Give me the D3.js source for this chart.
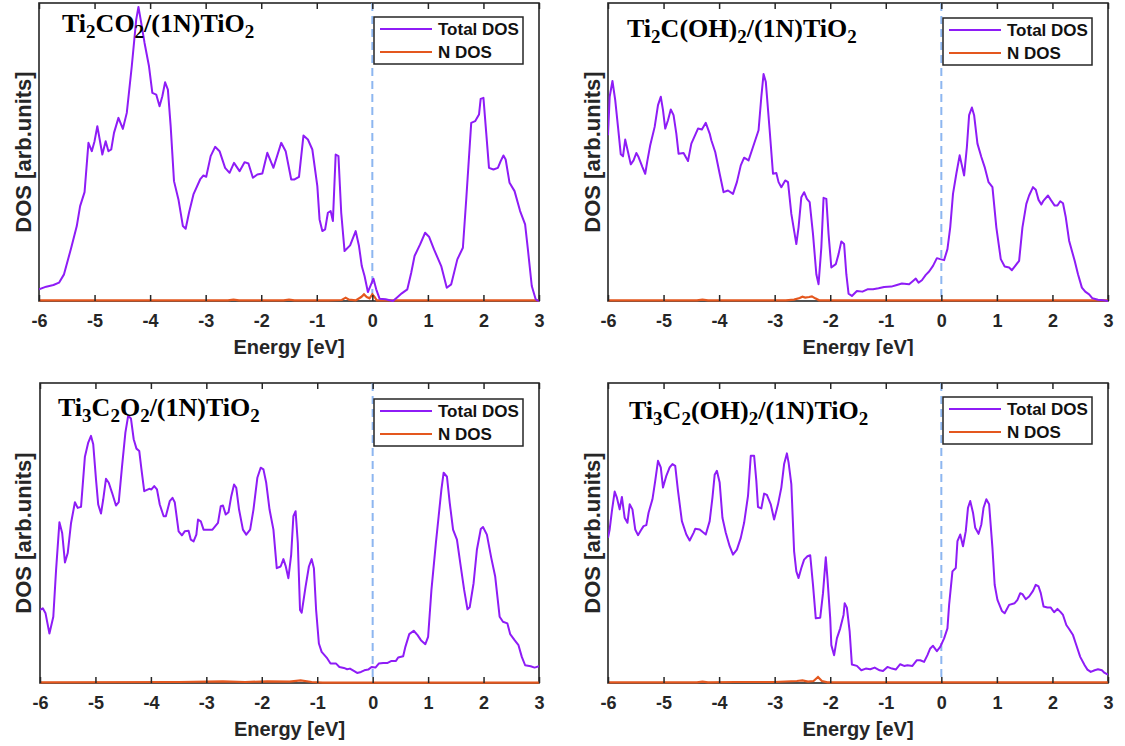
<!DOCTYPE html>
<html>
<head>
<meta charset="utf-8">
<script src="https://cdn.jsdelivr.net/npm/d3@7"></script>
<style>
  body { margin: 0; background: #fff; }
  svg { display: block; }
</style>
</head>
<body>
<svg id="chart" width="1125" height="746"></svg>
<script>
// ---- axis ticks and labels ----
const energyTicks = [-6, -5, -4, -3, -2, -1, 0, 1, 2, 3];
const energyDomain = [-6, 3];
const seriesNames = ["Total DOS", "N DOS"];
const xLabel = "Energy [eV]";
const yLabel = "DOS [arb.units]";
// "_d" marks a subscript digit
const panelTitles = [
  "Ti_2CO_2/(1N)TiO_2",
  "Ti_2C(OH)_2/(1N)TiO_2",
  "Ti_3C_2O_2/(1N)TiO_2",
  "Ti_3C_2(OH)_2/(1N)TiO_2"
];
// upper limit of the DOS axis of each panel (arb. units)
const dosTop = [89.5, 89, 89.6, 89.5];

// ---- Ti2CO2/(1N)TiO2 : [energy eV, DOS] ----
const ti2co2Total = [
  [-6.00,3.5],[-5.87,4.3],[-5.74,4.8],[-5.64,5.5],[-5.55,8.0],[-5.42,16.0],[-5.32,22.5],[-5.26,28.5],
  [-5.18,32.7],[-5.11,47.5],[-5.05,45.0],[-5.00,48.0],[-4.95,52.5],[-4.86,44.0],[-4.80,48.0],[-4.75,45.0],
  [-4.70,45.5],[-4.65,50.5],[-4.57,55.0],[-4.49,51.7],[-4.42,56.5],[-4.33,70.5],[-4.25,84.5],[-4.21,88.3],
  [-4.17,84.5],[-4.10,77.5],[-4.02,70.5],[-3.96,62.5],[-3.89,62.0],[-3.83,58.5],[-3.78,61.5],[-3.73,65.7],
  [-3.68,63.5],[-3.63,52.5],[-3.57,36.0],[-3.49,30.5],[-3.41,22.5],[-3.36,21.7],[-3.30,26.5],[-3.22,32.0],
  [-3.10,36.5],[-3.04,37.7],[-2.99,37.3],[-2.91,43.5],[-2.83,46.3],[-2.75,45.0],[-2.65,40.0],[-2.57,38.5],
  [-2.49,41.5],[-2.39,39.0],[-2.30,41.7],[-2.23,41.3],[-2.15,37.0],[-2.07,38.0],[-1.98,38.3],[-1.89,44.5],
  [-1.78,40.0],[-1.64,47.5],[-1.56,45.0],[-1.46,36.5],[-1.40,36.5],[-1.32,37.3],[-1.24,49.7],[-1.16,48.5],
  [-1.08,45.5],[-0.99,34.5],[-0.95,24.5],[-0.90,21.0],[-0.85,21.5],[-0.80,26.5],[-0.75,27.0],[-0.71,24.0],
  [-0.66,44.0],[-0.61,43.5],[-0.56,26.5],[-0.50,15.0],[-0.40,16.7],[-0.30,21.0],[-0.24,16.5],[-0.19,10.5],
  [-0.14,7.5],[-0.08,2.7],[0.02,6.7],[0.07,3.5],[0.13,0.7],[0.24,0.5],[0.37,0.0],[0.44,1.0],
  [0.53,2.3],[0.63,3.5],[0.70,8.5],[0.76,13.5],[0.86,17.0],[0.95,20.5],[1.02,19.3],[1.11,15.5],
  [1.24,10.5],[1.34,4.0],[1.42,5.0],[1.53,12.5],[1.63,16.0],[1.69,30.5],[1.78,53.5],[1.85,54.0],
  [1.92,56.0],[1.95,60.7],[2.00,61.0],[2.05,50.5],[2.10,40.0],[2.18,39.5],[2.26,40.0],[2.31,42.0],
  [2.36,43.7],[2.40,42.5],[2.47,35.5],[2.56,33.0],[2.66,27.0],[2.75,23.0],[2.80,15.5],[2.87,4.5],
  [2.94,0.5],[3.00,0.0]
];
const ti2co2N = [
  [-6.00,0.2],[-2.60,0.2],[-2.50,0.4],[-2.40,0.2],[-1.60,0.2],[-1.50,0.4],[-1.40,0.2],[-0.80,0.2],
  [-0.55,0.3],[-0.48,1.0],[-0.42,0.4],[-0.30,0.2],[-0.20,1.2],[-0.15,2.0],[-0.10,1.2],[-0.05,0.8],
  [0.00,2.0],[0.04,1.2],[0.08,0.2],[3.00,0.2]
];

// ---- Ti2C(OH)2/(1N)TiO2 ----
const ti2coh2Total = [
  [-6.00,49.5],[-5.97,61.0],[-5.92,65.7],[-5.87,60.0],[-5.82,52.0],[-5.77,43.8],[-5.73,43.2],[-5.69,48.2],
  [-5.64,44.5],[-5.59,40.8],[-5.54,42.0],[-5.49,44.2],[-5.45,43.0],[-5.38,40.0],[-5.33,38.0],[-5.29,42.0],
  [-5.24,46.5],[-5.16,52.0],[-5.10,58.5],[-5.05,61.0],[-5.01,57.0],[-4.97,51.5],[-4.92,54.0],[-4.87,57.2],
  [-4.82,55.5],[-4.77,50.0],[-4.73,44.0],[-4.64,44.2],[-4.56,41.8],[-4.50,47.0],[-4.38,51.5],[-4.31,51.2],
  [-4.24,53.2],[-4.17,50.0],[-4.14,48.0],[-4.07,44.5],[-3.99,38.0],[-3.92,32.5],[-3.84,33.0],[-3.75,32.0],
  [-3.68,35.5],[-3.61,40.5],[-3.55,42.8],[-3.47,42.0],[-3.39,46.0],[-3.29,51.0],[-3.24,61.0],[-3.20,67.8],
  [-3.16,65.5],[-3.09,51.0],[-3.03,38.0],[-2.97,38.2],[-2.93,35.5],[-2.88,34.0],[-2.81,36.0],[-2.76,35.5],
  [-2.70,26.0],[-2.61,17.0],[-2.57,22.0],[-2.52,31.0],[-2.47,32.5],[-2.42,30.5],[-2.37,29.5],[-2.31,20.0],
  [-2.25,8.0],[-2.21,5.0],[-2.16,16.0],[-2.12,30.8],[-2.07,30.5],[-2.03,20.0],[-1.98,10.0],[-1.90,11.0],
  [-1.85,14.0],[-1.80,17.8],[-1.75,17.0],[-1.71,8.0],[-1.67,2.2],[-1.61,1.5],[-1.52,3.0],[-1.42,2.8],
  [-1.33,3.5],[-1.23,3.5],[-1.13,3.8],[-1.03,4.2],[-0.90,4.3],[-0.80,4.8],[-0.71,5.2],[-0.58,5.0],
  [-0.51,6.0],[-0.46,6.7],[-0.41,5.5],[-0.35,6.2],[-0.28,7.8],[-0.22,8.8],[-0.15,10.5],[-0.08,12.8],
  [-0.02,12.5],[0.05,12.2],[0.11,15.5],[0.16,22.0],[0.21,32.0],[0.27,38.0],[0.33,43.5],[0.37,40.5],
  [0.41,37.5],[0.46,46.0],[0.50,55.5],[0.55,57.8],[0.59,55.5],[0.65,47.0],[0.72,43.0],[0.78,40.0],
  [0.85,35.5],[0.92,34.0],[0.99,22.0],[1.07,12.5],[1.14,10.3],[1.22,10.0],[1.27,9.2],[1.33,10.5],
  [1.40,12.0],[1.46,22.0],[1.53,29.0],[1.58,31.5],[1.65,34.0],[1.70,33.2],[1.75,30.2],[1.80,28.8],
  [1.84,30.0],[1.92,31.5],[1.97,30.2],[2.04,28.5],[2.09,28.5],[2.14,29.8],[2.19,29.2],[2.24,25.0],
  [2.30,18.0],[2.40,12.0],[2.46,8.0],[2.53,4.0],[2.59,2.8],[2.66,2.0],[2.72,0.8],[2.82,0.4],
  [2.92,0.2],[3.00,0.0]
];
const ti2coh2N = [
  [-6.00,0.2],[-4.40,0.2],[-4.30,0.4],[-4.20,0.2],[-2.80,0.2],[-2.65,0.4],[-2.55,0.9],[-2.50,1.3],
  [-2.45,1.0],[-2.38,1.2],[-2.33,1.4],[-2.27,0.8],[-2.20,0.2],[3.00,0.2]
];

// ---- Ti3C2O2/(1N)TiO2 ----
const ti3c2o2Total = [
  [-6.00,21.8],[-5.95,22.3],[-5.90,20.8],[-5.83,14.8],[-5.76,19.8],[-5.71,33.8],[-5.65,48.0],[-5.60,44.8],
  [-5.55,36.0],[-5.50,38.8],[-5.44,47.8],[-5.37,54.0],[-5.32,52.3],[-5.26,52.6],[-5.19,67.6],[-5.13,71.8],
  [-5.08,73.8],[-5.04,71.3],[-4.99,60.8],[-4.95,53.3],[-4.90,50.6],[-4.86,54.8],[-4.81,61.0],[-4.76,59.8],
  [-4.70,56.8],[-4.63,53.0],[-4.58,54.0],[-4.52,64.8],[-4.46,74.8],[-4.41,79.8],[-4.36,79.0],[-4.31,72.8],
  [-4.26,70.0],[-4.21,69.3],[-4.17,63.8],[-4.12,57.3],[-4.03,58.0],[-3.99,57.8],[-3.94,58.8],[-3.89,57.8],
  [-3.84,53.3],[-3.77,49.8],[-3.73,49.8],[-3.66,54.3],[-3.61,55.3],[-3.57,54.0],[-3.50,45.3],[-3.44,44.1],
  [-3.39,45.3],[-3.32,45.5],[-3.28,42.8],[-3.23,42.3],[-3.18,44.3],[-3.15,48.8],[-3.10,48.3],[-3.05,45.8],
  [-2.97,45.8],[-2.89,45.8],[-2.79,47.8],[-2.74,52.8],[-2.70,53.0],[-2.65,50.3],[-2.60,51.0],[-2.55,55.8],
  [-2.50,59.3],[-2.46,58.3],[-2.41,51.8],[-2.34,45.8],[-2.28,44.3],[-2.21,45.8],[-2.15,51.8],[-2.08,61.3],
  [-2.02,64.3],[-1.97,63.8],[-1.92,59.8],[-1.86,51.8],[-1.79,45.8],[-1.73,34.3],[-1.66,34.8],[-1.61,37.0],
  [-1.57,35.0],[-1.52,31.3],[-1.47,38.3],[-1.43,49.8],[-1.39,51.3],[-1.35,41.8],[-1.31,21.8],[-1.28,21.0],
  [-1.21,28.8],[-1.15,34.8],[-1.10,37.0],[-1.06,34.3],[-1.02,21.8],[-0.97,11.8],[-0.92,9.3],[-0.83,7.6],
  [-0.76,5.8],[-0.66,5.8],[-0.60,4.8],[-0.52,4.5],[-0.46,4.1],[-0.41,4.3],[-0.34,3.6],[-0.28,3.0],
  [-0.21,3.3],[-0.15,3.8],[-0.08,4.0],[-0.02,4.8],[0.05,4.6],[0.11,5.8],[0.19,6.0],[0.27,6.0],
  [0.34,6.6],[0.42,6.6],[0.46,7.6],[0.55,8.0],[0.59,10.8],[0.66,14.6],[0.74,15.6],[0.81,14.3],
  [0.87,12.8],[0.95,11.6],[1.00,13.8],[1.06,27.8],[1.14,41.8],[1.19,49.8],[1.24,57.8],[1.28,62.8],
  [1.34,61.6],[1.39,53.8],[1.45,45.8],[1.52,42.8],[1.58,35.8],[1.65,27.8],[1.71,22.0],[1.75,22.6],
  [1.82,29.8],[1.88,39.8],[1.95,46.0],[1.99,46.6],[2.06,44.3],[2.14,37.3],[2.21,31.8],[2.29,19.8],
  [2.35,18.3],[2.43,17.8],[2.48,14.6],[2.56,12.8],[2.63,11.3],[2.69,7.8],[2.75,5.3],[2.85,5.0],
  [2.92,4.6],[3.00,5.0]
];
const ti3c2o2N = [
  [-6.00,0.2],[-3.50,0.3],[-2.70,0.5],[-2.30,0.3],[-1.90,0.5],[-1.50,0.4],[-1.30,0.8],[-1.10,0.3],
  [-0.90,0.1],[3.00,0.1]
];

// ---- Ti3C2(OH)2/(1N)TiO2 ----
const ti3c2oh2Total = [
  [-6.00,43.3],[-5.97,45.8],[-5.93,51.3],[-5.88,57.1],[-5.84,55.3],[-5.79,51.8],[-5.75,55.5],[-5.70,49.3],
  [-5.65,47.8],[-5.61,53.3],[-5.56,51.8],[-5.51,45.8],[-5.46,44.1],[-5.41,45.5],[-5.36,46.8],[-5.31,47.1],
  [-5.27,50.8],[-5.20,54.8],[-5.15,60.3],[-5.10,66.3],[-5.05,64.3],[-5.01,58.3],[-4.95,61.8],[-4.89,64.3],
  [-4.84,65.3],[-4.79,64.8],[-4.74,57.3],[-4.67,48.3],[-4.59,44.3],[-4.53,42.5],[-4.46,44.8],[-4.43,46.0],
  [-4.35,45.8],[-4.30,45.1],[-4.24,44.3],[-4.17,48.3],[-4.12,55.3],[-4.08,62.1],[-4.04,63.3],[-3.99,59.8],
  [-3.94,49.3],[-3.88,44.8],[-3.81,40.8],[-3.75,38.3],[-3.68,39.8],[-3.61,43.3],[-3.55,47.8],[-3.48,55.8],
  [-3.43,67.8],[-3.37,67.8],[-3.33,60.3],[-3.30,52.5],[-3.24,52.1],[-3.19,56.5],[-3.14,56.1],[-3.07,53.3],
  [-3.01,48.8],[-2.94,53.3],[-2.88,58.3],[-2.83,65.3],[-2.78,68.5],[-2.75,65.8],[-2.70,59.3],[-2.65,39.3],
  [-2.61,33.3],[-2.57,31.3],[-2.52,34.3],[-2.47,36.8],[-2.41,37.8],[-2.36,38.1],[-2.31,29.3],[-2.26,19.3],
  [-2.18,19.5],[-2.13,26.8],[-2.08,37.5],[-2.05,31.3],[-2.00,19.3],[-1.98,11.3],[-1.93,8.3],[-1.88,13.3],
  [-1.82,16.3],[-1.76,20.3],[-1.74,23.8],[-1.70,22.5],[-1.65,15.3],[-1.61,5.5],[-1.52,5.1],[-1.44,3.8],
  [-1.36,4.3],[-1.28,4.1],[-1.20,4.6],[-1.11,3.8],[-1.05,3.6],[-0.97,4.8],[-0.89,4.3],[-0.82,4.0],
  [-0.74,5.6],[-0.67,5.1],[-0.61,5.3],[-0.52,5.1],[-0.44,6.8],[-0.38,6.8],[-0.31,6.3],[-0.25,8.3],
  [-0.20,10.3],[-0.15,11.1],[-0.08,9.5],[-0.02,10.8],[0.05,13.3],[0.11,16.3],[0.14,23.3],[0.20,33.3],
  [0.26,34.3],[0.29,42.3],[0.34,44.3],[0.39,40.8],[0.44,45.3],[0.48,52.3],[0.52,54.3],[0.57,50.8],
  [0.61,46.3],[0.67,44.5],[0.72,47.3],[0.76,52.3],[0.81,54.8],[0.86,53.3],[0.92,40.3],[0.96,29.3],
  [1.01,24.8],[1.09,21.5],[1.14,20.8],[1.22,23.3],[1.32,23.8],[1.37,24.8],[1.42,26.8],[1.46,26.5],
  [1.52,25.0],[1.58,25.8],[1.65,27.5],[1.70,29.3],[1.75,28.8],[1.79,26.8],[1.84,22.8],[1.91,22.5],
  [1.97,22.5],[2.03,21.1],[2.09,22.1],[2.14,21.3],[2.19,20.3],[2.25,17.3],[2.30,16.1],[2.37,14.3],
  [2.42,11.8],[2.50,7.8],[2.58,5.3],[2.63,4.0],[2.69,3.3],[2.76,3.8],[2.82,4.1],[2.89,3.8],
  [2.94,3.0],[3.00,2.5]
];
const ti3c2oh2N = [
  [-6.00,0.2],[-4.40,0.2],[-4.30,0.4],[-4.20,0.2],[-3.70,0.3],[-3.00,0.3],[-2.60,0.6],[-2.50,0.8],
  [-2.40,0.4],[-2.30,0.6],[-2.22,1.8],[-2.15,0.6],[-2.05,0.2],[3.00,0.2]
];

// ---- styling ----
const colorTotal = "#8e1cf6";
const colorN = "#e4571e";
const axisColor = "#262626";
const sansFont = "'Liberation Sans', Arial, sans-serif";
const serifFont = "'Liberation Serif', 'Times New Roman', serif";

const svg = d3.select("#chart");
svg.append("rect").attr("width", 1125).attr("height", 746).attr("fill", "#fff");

const panels = [
  { title: panelTitles[0], total: ti2co2Total, n: ti2co2N, top: dosTop[0],
    x0: 39, x1: 539, yt: 3, yb: 301, tx: 62, ty: 32, lx: 374, ly: 17, ylx: 23 },
  { title: panelTitles[1], total: ti2coh2Total, n: ti2coh2N, top: dosTop[1],
    x0: 608, x1: 1108, yt: 3, yb: 301, tx: 627, ty: 37, lx: 943, ly: 18, ylx: 592 },
  { title: panelTitles[2], total: ti3c2o2Total, n: ti3c2o2N, top: dosTop[2],
    x0: 40, x1: 539, yt: 383, yb: 683, tx: 58, ty: 416, lx: 374, ly: 399, ylx: 23 },
  { title: panelTitles[3], total: ti3c2oh2Total, n: ti3c2oh2N, top: dosTop[3],
    x0: 608, x1: 1108, yt: 383, yb: 683, tx: 629, ty: 419, lx: 943, ly: 397, ylx: 592 }
];

function drawPanel(p, i) {
  const g = svg.append("g");
  const x = d3.scaleLinear().domain(energyDomain).range([p.x0, p.x1]);
  const y = d3.scaleLinear().domain([0, p.top]).range([p.yb, p.yt]);

  const clipId = "clip" + i;
  svg.append("clipPath").attr("id", clipId)
    .append("rect").attr("x", p.x0).attr("y", p.yt - 1)
    .attr("width", p.x1 - p.x0).attr("height", p.yb - p.yt + 2);

  // axes box
  g.append("rect")
    .attr("x", p.x0).attr("y", p.yt)
    .attr("width", p.x1 - p.x0).attr("height", p.yb - p.yt)
    .attr("fill", "none").attr("stroke", axisColor).attr("stroke-width", 1.6);

  // Fermi level
  g.append("line")
    .attr("x1", x(0)).attr("x2", x(0)).attr("y1", p.yt).attr("y2", p.yb)
    .attr("stroke", "#8db6f0").attr("stroke-width", 2)
    .attr("stroke-dasharray", "8,5");

  // DOS curves
  const line = d3.line().x(d => x(d[0])).y(d => y(d[1]));
  const curves = g.append("g").attr("clip-path", `url(#${clipId})`);
  curves.append("path").datum(p.n)
    .attr("d", line).attr("fill", "none")
    .attr("stroke", colorN).attr("stroke-width", 2.2);
  curves.append("path").datum(p.total)
    .attr("d", line).attr("fill", "none")
    .attr("stroke", colorTotal).attr("stroke-width", 2)
    .attr("stroke-linejoin", "round");

  // bottom axis with inward ticks
  const bottom = g.append("g").attr("transform", `translate(0,${p.yb})`)
    .call(d3.axisBottom(x).tickValues(energyTicks).tickFormat(d3.format("d"))
      .tickSizeInner(-6).tickSizeOuter(0).tickPadding(13));
  bottom.select(".domain").remove();
  bottom.selectAll("line").attr("stroke", axisColor).attr("stroke-width", 1.5);
  bottom.selectAll("text")
    .attr("font-family", sansFont).attr("font-size", 18).attr("font-weight", "bold")
    .attr("fill", axisColor)
    .text(d => (d < 0 ? "-" : "") + Math.abs(d));

  // top axis, ticks only
  const topAx = g.append("g").attr("transform", `translate(0,${p.yt})`)
    .call(d3.axisTop(x).tickValues(energyTicks).tickFormat("")
      .tickSizeInner(-6).tickSizeOuter(0));
  topAx.select(".domain").remove();
  topAx.selectAll("line").attr("stroke", axisColor).attr("stroke-width", 1.5);

  // axis titles
  g.append("text")
    .attr("x", (p.x0 + p.x1) / 2).attr("y", p.yb + 53)
    .attr("text-anchor", "middle")
    .attr("font-family", sansFont).attr("font-size", 20).attr("font-weight", "bold")
    .attr("fill", axisColor).text(xLabel);
  g.append("text")
    .attr("transform", `translate(${p.ylx},${(p.yt + p.yb) / 2}) rotate(-90)`)
    .attr("text-anchor", "middle").attr("dominant-baseline", "central")
    .attr("font-family", sansFont).attr("font-size", 22).attr("font-weight", "bold")
    .attr("fill", axisColor).text(yLabel);

  // panel title with subscripts
  const t = g.append("text")
    .attr("x", p.tx).attr("y", p.ty)
    .attr("font-family", serifFont).attr("font-size", 26).attr("font-weight", "bold")
    .attr("fill", "#000");
  const parts = p.title.split(/(_\d)/).filter(s => s.length);
  let shifted = false;
  parts.forEach(s => {
    if (s[0] === "_") {
      t.append("tspan").attr("font-size", 19).attr("dy", shifted ? 0 : 6).text(s.slice(1));
      shifted = true;
    } else {
      t.append("tspan").attr("dy", shifted ? -6 : 0).text(s);
      shifted = false;
    }
  });

  // legend
  const lg = g.append("g").attr("transform", `translate(${p.lx},${p.ly})`);
  lg.append("rect").attr("width", 149).attr("height", 47)
    .attr("fill", "#fff").attr("stroke", axisColor).attr("stroke-width", 1.5);
  [colorTotal, colorN].forEach((c, k) => {
    const cy = 12 + k * 23;
    lg.append("line").attr("x1", 6).attr("x2", 58).attr("y1", cy).attr("y2", cy)
      .attr("stroke", c).attr("stroke-width", 2);
    lg.append("text").attr("x", 64).attr("y", cy + 6)
      .attr("font-family", sansFont).attr("font-size", 17).attr("font-weight", "bold")
      .attr("fill", "#111").text(seriesNames[k]);
  });
}

drawPanel(panels[0], 0);
drawPanel(panels[1], 1);
// white backing of the lower-right axes region, which overlaps the label above it
svg.append("rect").attr("x", 560).attr("y", 356).attr("width", 565).attr("height", 16).attr("fill", "#fff");
drawPanel(panels[2], 2);
drawPanel(panels[3], 3);
</script>
</body>
</html>
